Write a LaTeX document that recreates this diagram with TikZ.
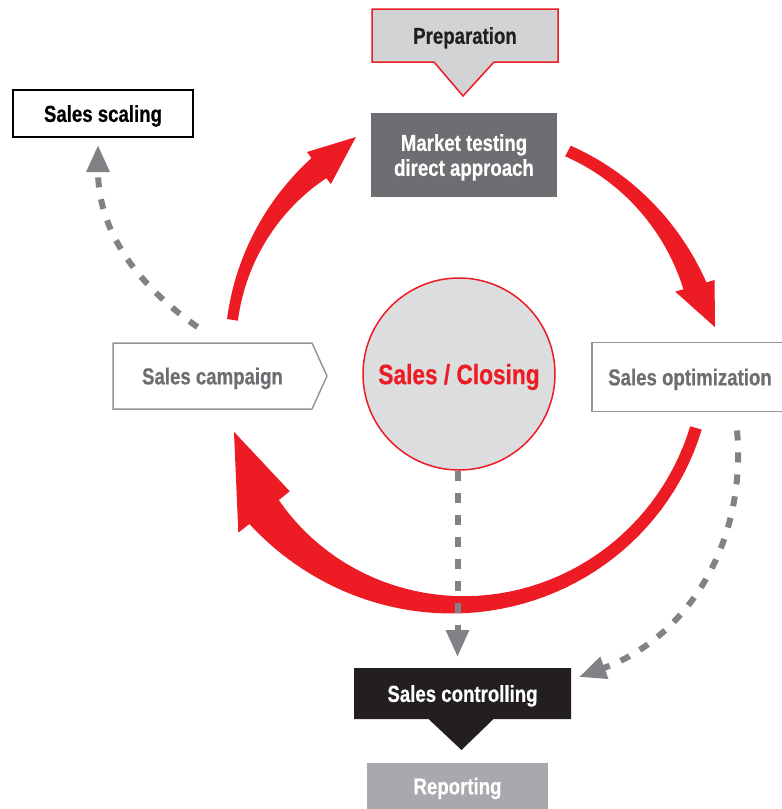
\documentclass[tikz,border=0pt]{standalone}
\usepackage{fontspec}
\setmainfont{Liberation Sans}[FakeStretch=0.81, BoldFeatures={FakeBold=0.5}]
\usetikzlibrary{arrows.meta,backgrounds}

\definecolor{loopred}{HTML}{ED1C24}
\definecolor{paleGray}{HTML}{D1D3D4}
\definecolor{hubGray}{HTML}{DCDDDE}
\definecolor{darkGray}{HTML}{6D6E71}
\definecolor{lineGray}{HTML}{939598}
\definecolor{dashGray}{HTML}{808285}
\definecolor{midGray}{HTML}{A7A9AC}
\definecolor{nearBlack}{HTML}{231F20}

% tapered red arrow around (ring): shaft angles, tip angle, radii, widths, head width
\newcommand{\taper}{2}
\newcommand{\ringarrow}[9]{%
  \fill[loopred]
    plot[domain=0:1,samples=50]
      ({((#4)+((#5)-(#4))*\x+0.5*((#7)+((#8)-(#7))*(\x)^\taper))*cos((#1)+((#2)-(#1))*\x)},
       {((#4)+((#5)-(#4))*\x+0.5*((#7)+((#8)-(#7))*(\x)^\taper))*sin((#1)+((#2)-(#1))*\x)})
    -- (#2:{(#5)+0.5*(#9)}) -- (#3:#6) -- (#2:{(#5)-0.5*(#9)})
    -- plot[domain=0:1,samples=50]
      ({((#5)+((#4)-(#5))*\x-0.5*((#7)+((#8)-(#7))*(1-\x)^\taper))*cos((#2)+((#1)-(#2))*\x)},
       {((#5)+((#4)-(#5))*\x-0.5*((#7)+((#8)-(#7))*(1-\x)^\taper))*sin((#2)+((#1)-(#2))*\x)})
    -- cycle;}

\begin{document}
\begin{tikzpicture}[x=1pt,y=1pt,
    stage/.style={rectangle, inner sep=0pt, outer sep=0pt, align=center, text depth=0pt,
      font=\fontsize{23}{25}\selectfont\bfseries},
    hub/.style={circle, draw=loopred, line width=1.5pt, fill=hubGray, minimum size=192pt,
      inner sep=0pt, text depth=0pt, text=loopred, font=\fontsize{28}{30}\selectfont\bfseries},
    dashlink/.style={dashGray, line width=6pt, dash pattern=on 10pt off 12pt,
      -{Triangle[length=27pt,width=22pt]}}]
  \useasboundingbox (0,0) rectangle (782,-809);

  \node[stage, text=nearBlack, minimum width=186pt, minimum height=53pt] (prep) at (465,-35.5) {Preparation};
  \node[stage, fill=darkGray, text=white, minimum width=186pt, minimum height=84pt] (market) at (464,-155) {Market testing\\direct approach};
  \node[stage, draw=black, line width=2pt, fill=white, minimum width=180pt, minimum height=47pt] (scaling) at (103,-113.5) {Sales scaling};
  \node[stage, text=darkGray, minimum width=199pt, minimum height=66pt] (campaign) at (212.5,-376) {Sales campaign};
  \node[stage, draw=lineGray, line width=1.5pt, text=darkGray, minimum width=196pt, minimum height=69pt] (optim) at (690,-377) {Sales optimization};
  \node[hub] (closing) at (459,-374) {Sales / Closing};
  \node[stage, text=white, minimum width=217pt, minimum height=51pt] (controlling) at (462.5,-693.5) {Sales controlling};
  \node[stage, fill=midGray, text=white, minimum width=181pt, minimum height=46pt] (reporting) at (457.5,-786) {Reporting};
  \coordinate (ring) at (458,-356);

  % boxes with pointers
  \begin{scope}[on background layer]
    \filldraw[fill=paleGray, draw=loopred, line width=1.5pt] (prep.north west) -- (prep.north east)
      -- (prep.south east) -- ([xshift=29pt]prep.south) -- ([xshift=-2pt,yshift=-34pt]prep.south)
      -- ([xshift=-31pt]prep.south) -- (prep.south west) -- cycle;
    \filldraw[fill=white, draw=lineGray, line width=1.5pt] (campaign.north west) -- (campaign.north east)
      -- ([xshift=15pt]campaign.east) -- (campaign.south east) -- (campaign.south west) -- cycle;
    \fill[nearBlack] (controlling.north west) -- (controlling.north east) -- (controlling.south east)
      -- ([xshift=31pt]controlling.south) -- ([xshift=-1pt,yshift=-31pt]controlling.south)
      -- ([xshift=-34pt]controlling.south) -- (controlling.south west) -- cycle;
  \end{scope}

  % the red loop
  \begin{scope}[shift={(ring)}]
    \ringarrow{170.9}{126.5}{115}{228.4}{233.8}{241.6}{11}{25}{40}
    \ringarrow{61.8}{16.5}{6.4}{232.6}{247.1}{258.6}{12}{24}{41}
    \renewcommand{\taper}{3}
    \ringarrow{-16.8}{-141.2}{-161.3}{248.6}{248.9}{236.5}{12}{38}{66}
  \end{scope}

  % dashed side paths
  \draw[dashlink] ([xshift=-15pt,yshift=16pt]campaign.north) to[out=145,in=-90] ([xshift=-5pt,yshift=-8pt]scaling.south);
  \draw[dashlink] ([xshift=-1.5pt]closing.south) -- ([xshift=-1.5pt,yshift=11pt]closing.south |- controlling.north);
  \draw[dashlink] ([xshift=47pt,yshift=-19pt]optim.south) to[out=-85,in=20] ([xshift=8pt,yshift=16.5pt]controlling.east);
\end{tikzpicture}
\end{document}
